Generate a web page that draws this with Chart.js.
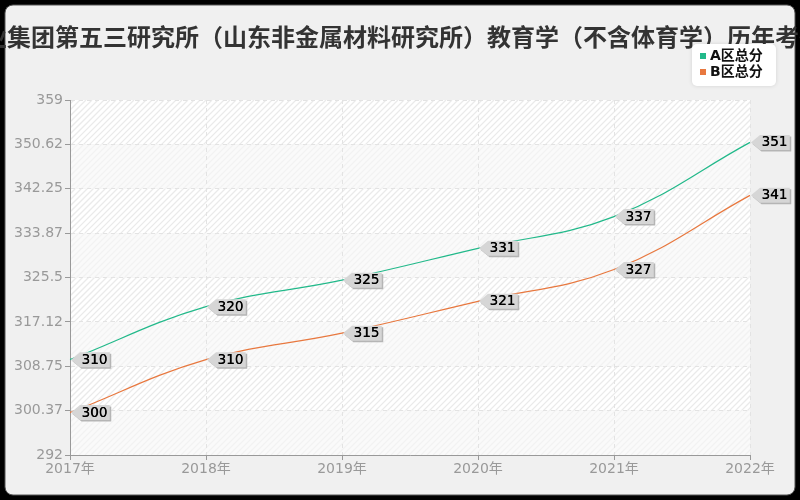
<!DOCTYPE html>
<html>
<head>
<meta charset="utf-8">
<script src="https://cdn.jsdelivr.net/npm/chart.js@4/dist/chart.umd.min.js"></script>
<style>
  html,body{margin:0;padding:0;background:#000}
  #wrap{width:800px;height:500px}
</style>
</head>
<body>
<div id="wrap"><canvas id="c" width="800" height="500"></canvas></div>
<script>
// ── données ──
const TITLE = '中国兵器工业集团第五三研究所（山东非金属材料研究所）教育学（不含体育学）历年考研分数线';
const TITLE_HIDDEN_PREFIX = '中国兵器工业';
const years = ['2017年','2018年','2019年','2020年','2021年','2022年'];
const seriesNames = ['A区总分','B区总分'];
const scoreA = [310, 320, 325, 331, 337, 351];
const scoreB = [300, 310, 315, 321, 327, 341];
const yTickValues = [292, 300.375, 308.75, 317.125, 325.5, 333.875, 342.25, 350.625, 359];
const yTickLabels = ['292','300.37','308.75','317.12','325.5','333.87','342.25','350.62','359'];

const COLORS = ['#22b98a', '#e8783f'];
const FONT = '"DejaVu Sans", "Noto Sans CJK SC", sans-serif';

// fond : cadre noir, carte grise, bandes hachurées
const bgPlugin = {
  id: 'bg',
  beforeDraw(chart){
    const {ctx, chartArea:a, scales:{y}} = chart;
    ctx.save();
    ctx.fillStyle = '#000';
    ctx.fillRect(0, 0, chart.width, chart.height);
    ctx.beginPath();
    ctx.roundRect(5, 5, 790, 490, 8);
    ctx.fillStyle = '#f0f0f0';
    ctx.fill();
    ctx.strokeStyle = '#555';
    ctx.lineWidth = 1;
    ctx.stroke();

    const t = y.ticks;
    for(let i=0;i<t.length-1;i++){
      const yb = y.getPixelForValue(t[i].value);
      const yt = y.getPixelForValue(t[i+1].value);
      const hatched = (t.length-2-i)%2===0;
      ctx.save();
      ctx.beginPath();
      ctx.rect(a.left, yt, a.right-a.left, yb-yt);
      ctx.clip();
      ctx.fillStyle = hatched ? '#ffffff' : '#fafafa';
      ctx.fillRect(a.left, yt, a.right-a.left, yb-yt);
      ctx.strokeStyle = hatched ? '#eaeaea' : '#f2f2f2';
      ctx.lineWidth = 1.3;
      ctx.beginPath();
      for(let k=Math.floor((a.left+yt)/6)*6; k<a.right+yb+6; k+=6){
        ctx.moveTo(k-yt, yt);
        ctx.lineTo(k-yb, yb);
      }
      ctx.stroke();
      ctx.restore();
    }
    ctx.restore();
  }
};

// étiquettes en forme de flèche
const tagPlugin = {
  id: 'tags',
  afterDatasetsDraw(chart){
    const ctx = chart.ctx;
    ctx.save();
    ctx.font = '13.5px ' + FONT;
    ctx.textBaseline = 'middle';
    chart.data.datasets.forEach((ds, di)=>{
      chart.getDatasetMeta(di).data.forEach((p, i)=>{
        const txt = String(ds.data[i]);
        const w = ctx.measureText(txt).width;
        const x = p.x, y = p.y;
        const shape = (dx, dy)=>{
          ctx.beginPath();
          ctx.moveTo(x+1+dx, y+dy);
          ctx.lineTo(x+10+dx, y-7.5+dy);
          ctx.lineTo(x+14+w+dx, y-7.5+dy);
          ctx.lineTo(x+14+w+dx, y+7.5+dy);
          ctx.lineTo(x+10+dx, y+7.5+dy);
          ctx.closePath();
        };
        shape(1.5, 1.5); ctx.fillStyle = '#b5b5b5'; ctx.fill();
        shape(0, 0); ctx.fillStyle = '#d6d6d6'; ctx.fill();
        ctx.fillStyle = '#000';
        ctx.fillText(txt, x+11.5, y+0.5);
        ctx.fillText(txt, x+11.8, y+0.5);
      });
    });
    ctx.restore();
  }
};

// titre + légende
const overlayPlugin = {
  id: 'overlay',
  afterDraw(chart){
    const ctx = chart.ctx;
    ctx.save();
    ctx.font = 'bold 24px "Noto Sans CJK SC", sans-serif';
    ctx.fillStyle = '#333';
    ctx.textBaseline = 'middle';
    ctx.textAlign = 'left';
    const pre = ctx.measureText(TITLE_HIDDEN_PREFIX).width;
    ctx.fillText(TITLE, 7 - pre, 37);

    ctx.save();
    ctx.shadowColor = 'rgba(0,0,0,0.12)';
    ctx.shadowBlur = 4;
    ctx.beginPath();
    ctx.roundRect(692, 44, 84, 42, 5);
    ctx.fillStyle = '#fff';
    ctx.fill();
    ctx.restore();

    ctx.font = 'bold 14px ' + FONT;
    chart.data.datasets.forEach((ds, i)=>{
      const yy = 56 + i*16;
      ctx.fillStyle = ds.borderColor;
      ctx.fillRect(700, yy-3, 6, 6);
      ctx.fillStyle = '#111';
      ctx.fillText(ds.label, 710, yy);
    });
    ctx.restore();
  }
};

new Chart(document.getElementById('c'), {
  type: 'line',
  data: {
    labels: years,
    datasets: [
      { label: seriesNames[0], data: scoreA, borderColor: COLORS[0], backgroundColor: COLORS[0],
        borderWidth: 1.2, pointRadius: 0, tension: 0.4, fill: false },
      { label: seriesNames[1], data: scoreB, borderColor: COLORS[1], backgroundColor: COLORS[1],
        borderWidth: 1.2, pointRadius: 0, tension: 0.4, fill: false }
    ]
  },
  options: {
    responsive: false,
    animation: false,
    devicePixelRatio: 1,
    layout: { padding: { top: 100, right: 50, left: 0, bottom: 0 } },
    plugins: { legend: { display: false }, title: { display: false }, tooltip: { enabled: false } },
    scales: {
      x: {
        offset: false,
        grid: { color: '#e3e3e3', tickColor: '#999', tickLength: 5 },
        border: { color: '#999', dash: [4,4] },
        ticks: { color: '#999', font: { size: 14, family: FONT }, padding: 1, maxRotation: 0, autoSkip: false },
        afterFit(s){ s.height = 45; }
      },
      y: {
        min: 292, max: 359,
        grid: { color: '#e3e3e3', tickColor: '#999', tickLength: 5 },
        border: { color: '#999', dash: [4,4] },
        ticks: { color: '#999', font: { size: 14, family: FONT }, padding: 2,
                 callback: (v, i) => yTickLabels[i] },
        afterBuildTicks(s){ s.ticks = yTickValues.map(v => ({ value: v })); },
        afterFit(s){ s.width = 70; }
      }
    }
  },
  plugins: [bgPlugin, tagPlugin, overlayPlugin]
});
</script>
</body>
</html>
